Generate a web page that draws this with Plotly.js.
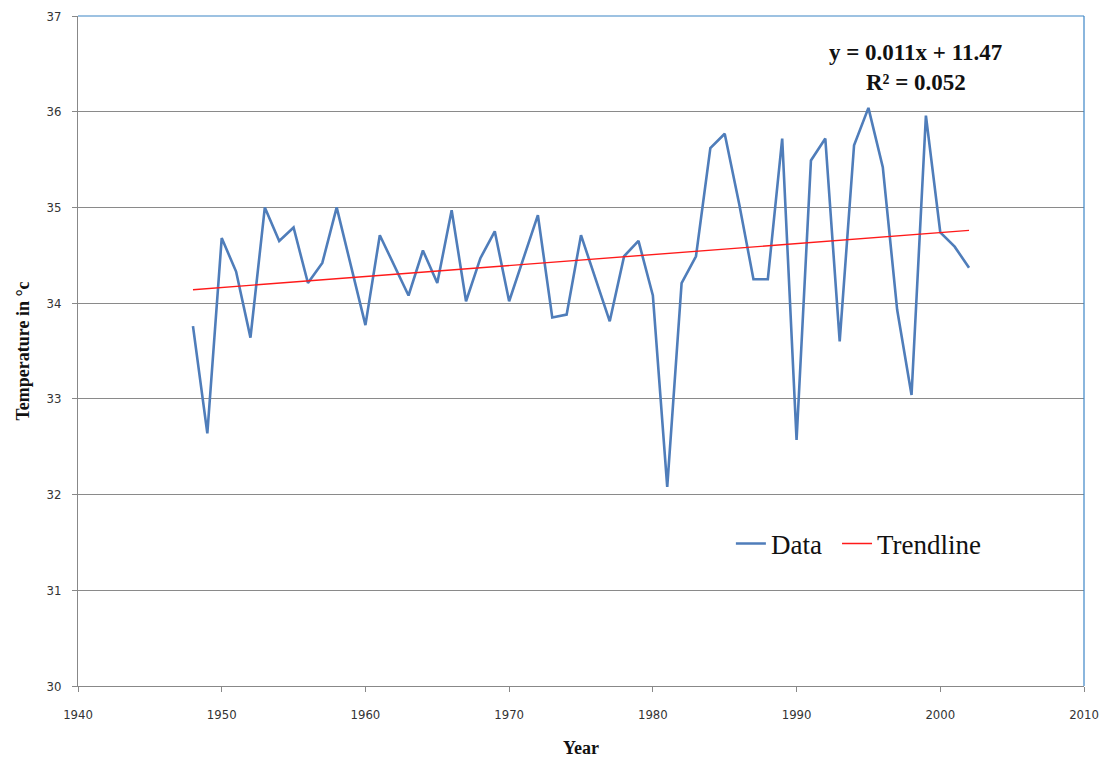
<!DOCTYPE html>
<html><head><meta charset="utf-8">
<script src="https://cdn.plot.ly/plotly-3.0.1.min.js"></script>
<style>html,body{margin:0;padding:0;background:#fff}#chart{width:1111px;height:764px}</style>
</head><body><div id="chart"></div>
<script>
const years = [1948,1949,1950,1951,1952,1953,1954,1955,1956,1957,1958,1959,1960,1961,1962,1963,1964,1965,1966,1967,1968,1969,1970,1971,1972,1973,1974,1975,1976,1977,1978,1979,1980,1981,1982,1983,1984,1985,1986,1987,1988,1989,1990,1991,1992,1993,1994,1995,1996,1997,1998,1999,2000,2001,2002];
const temps = [33.76,32.64,34.68,34.33,33.64,35.0,34.65,34.79,34.21,34.42,35.0,34.38,33.77,34.71,34.40,34.08,34.55,34.21,34.97,34.02,34.47,34.75,34.02,34.47,34.92,33.85,33.88,34.71,34.26,33.81,34.49,34.65,34.08,32.08,34.21,34.49,35.62,35.77,35.04,34.25,34.25,35.72,32.57,35.49,35.72,33.60,35.65,36.04,35.42,33.93,33.04,35.96,34.74,34.59,34.37];
const trendYears = [1948, 2002];
const trendTemps = [34.14, 34.76];
const xTicks = [1940,1950,1960,1970,1980,1990,2000,2010];
const yTicks = [30,31,32,33,34,35,36,37];

const legendFont = {family:'Liberation Serif, Times New Roman, serif', size:27, color:'#111'};
const data = [
  {x: years, y: temps, type:'scatter', mode:'lines', name:'Data', legend:'legend',
   line:{color:'#4F7DBA', width:2.6}},
  {x: trendYears, y: trendTemps, type:'scatter', mode:'lines', name:'Trendline', legend:'legend2',
   line:{color:'#FF1A1A', width:1.4}}
];
const layout = {
  width:1111, height:764,
  margin:{l:78, r:27, t:16, b:78},
  paper_bgcolor:'#fff', plot_bgcolor:'#fff',
  showlegend:true,
  legend:{orientation:'h', x:0.649, y:0.212, xanchor:'left', yanchor:'middle',
    font:legendFont, bgcolor:'rgba(0,0,0,0)', itemwidth:30},
  legend2:{orientation:'h', x:0.7545, y:0.212, xanchor:'left', yanchor:'middle',
    font:legendFont, bgcolor:'rgba(0,0,0,0)', itemwidth:30},
  xaxis:{range:[1940,2010], tickvals:xTicks, ticktext:xTicks.map(String),
    showgrid:false, zeroline:false, showline:true, linecolor:'#888', linewidth:1,
    ticks:'outside', ticklen:5, tickcolor:'#888', ticklabelstandoff:11,
    tickfont:{family:'DejaVu Sans Condensed, DejaVu Sans, sans-serif', size:13, color:'#333'},
    title:{text:'Year', standoff:20, font:{family:'Liberation Serif, Times New Roman, serif', size:18, color:'#111', weight:'bold'}}},
  yaxis:{range:[30,37], tickvals:yTicks, ticktext:yTicks.map(String),
    showgrid:true, gridcolor:'#8a8a8a', gridwidth:1, zeroline:false,
    showline:true, linecolor:'#888', linewidth:1,
    ticks:'outside', ticklen:5, tickcolor:'#888', ticklabelstandoff:8,
    tickfont:{family:'DejaVu Sans Condensed, DejaVu Sans, sans-serif', size:13, color:'#333'},
    title:{text:'Temperature in °c', standoff:12, font:{family:'Liberation Serif, Times New Roman, serif', size:18, color:'#111', weight:'bold'}}},
  shapes:[
    {type:'line', xref:'paper', yref:'paper', x0:0, x1:1, y0:1, y1:1, line:{color:'#3d85c6', width:1.2}},
    {type:'line', xref:'paper', yref:'paper', x0:1, x1:1, y0:0, y1:1, line:{color:'#3d85c6', width:1.2}}
  ],
  annotations:[
    {xref:'paper', yref:'paper', x:0.833, y:0.946, xanchor:'center', yanchor:'middle', text:'<b>y = 0.011x + 11.47</b>', showarrow:false,
     font:{family:'Liberation Serif, Times New Roman, serif', size:23, color:'#111'}},
    {xref:'paper', yref:'paper', x:0.833, y:0.9, xanchor:'center', yanchor:'middle', text:'<b>R² = 0.052</b>', showarrow:false,
     font:{family:'Liberation Serif, Times New Roman, serif', size:23, color:'#111'}}
  ]
};
Plotly.newPlot('chart', data, layout, {displayModeBar:false, staticPlot:true});
</script></body></html>
